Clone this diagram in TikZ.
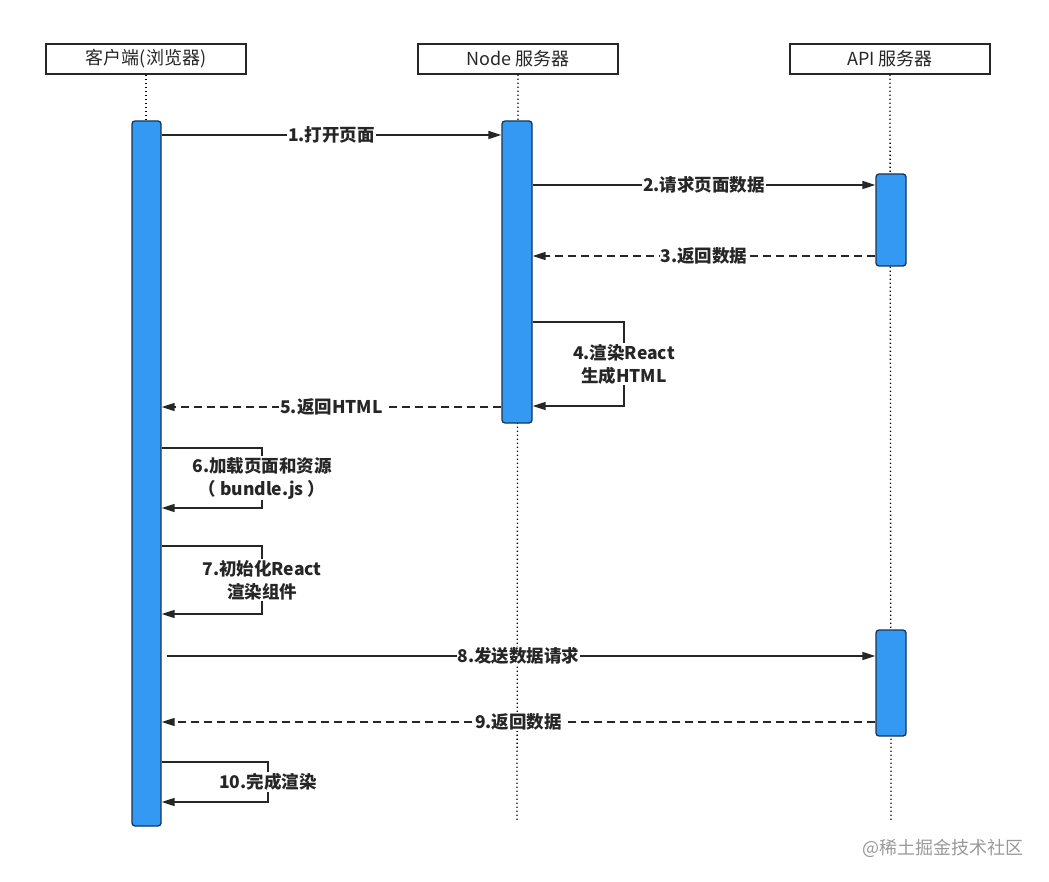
\documentclass[tikz,border=0pt]{standalone}
\usepackage{fontspec}
\setmainfont{Noto Sans CJK SC}
\usetikzlibrary{arrows.meta}
\definecolor{barblue}{HTML}{3399F3}
\definecolor{barline}{HTML}{163456}
\definecolor{ink}{HTML}{262626}
\begin{document}
\begin{tikzpicture}[x=1pt,y=-1pt,
  head/.style={draw=ink, line width=1.2pt, minimum width=200pt, minimum height=30pt, inner sep=0pt, font=\fontsize{18}{20}\selectfont, text=ink},
  life/.style={line width=1.3pt, black, dash pattern=on 1.3pt off 2.7pt},
  bar/.style={draw=barline, fill=barblue, line width=1.3pt, rounded corners=3pt, minimum width=29pt, inner sep=0pt},
  msg/.style={draw=ink, line width=1.4pt, -{Triangle[length=13pt,width=8pt]}},
  reply/.style={msg, dash pattern=on 8pt off 5pt},
  lbl/.style={fill=white, inner sep=1pt, text=ink, font=\bfseries\fontsize{17.5}{23}\selectfont, align=center},
]
\useasboundingbox (0,0) rectangle (1049,882);
% headers
\node[head] (hc) at (146,59) {客户端(浏览器)};
\node[head] (hn) at (518,59) {Node 服务器};
\node[head] (ha) at (890,59) {API 服务器};
% lifeline ends
\coordinate (ce) at (146,820);
\coordinate (ne) at (517,820);
\coordinate (ae) at (891,820);
\draw[life] (hc.south) -- (ce);
\draw[life] (hn.south) -- (ne);
\draw[life] (ha.south) -- (ae);
% activation bars
\node[bar, minimum height=705pt] (cact) at (146.5,473.5) {};
\node[bar, minimum width=30pt, minimum height=302pt] (nact) at (517,272) {};
\node[bar, minimum width=30pt, minimum height=92pt] (a1) at (891,220) {};
\node[bar, minimum width=30pt, minimum height=106pt] (a2) at (891,683) {};
% messages
\draw[msg] (cact.east |- 0,135) -- node[lbl] {1.打开页面} (nact.west |- 0,135);
\draw[msg] (nact.east |- 0,185) -- node[lbl] {2.请求页面数据} (a1.west |- 0,185);
\draw[reply] (a1.west |- 0,256) -- node[lbl] {3.返回数据} (nact.east |- 0,256);
\draw[msg] (nact.east |- 0,322) -- (624,322) -- node[lbl] {4.渲染React\\生成HTML} (624,406) -- (nact.east |- 0,406);
\draw[reply] (nact.west |- 0,407) -- node[lbl] {5.返回HTML} (cact.east |- 0,407);
\draw[msg] (cact.east |- 0,448) -- (262,448) -- node[lbl] {6.加载页面和资源\\（ bundle.js ）} (262,508) -- (cact.east |- 0,508);
\draw[msg] (cact.east |- 0,546) -- (262,546) -- node[lbl] {7.初始化React\\渲染组件} (262,614) -- (cact.east |- 0,614);
\draw[msg, shorten <=5pt] (cact.east |- 0,656) -- node[lbl] {8.发送数据请求} (a2.west |- 0,656);
\draw[reply] (a2.west |- 0,722) -- node[lbl] {9.返回数据} (cact.east |- 0,722);
\draw[msg] (cact.east |- 0,762) -- (268,762) -- node[lbl] {10.完成渲染} (268,802) -- (cact.east |- 0,802);
% watermark
\node[text=black!40, font=\fontsize{18}{20}\selectfont, inner sep=0pt] (wm) at (943,848) {@稀土掘金技术社区};
\end{tikzpicture}
\end{document}
